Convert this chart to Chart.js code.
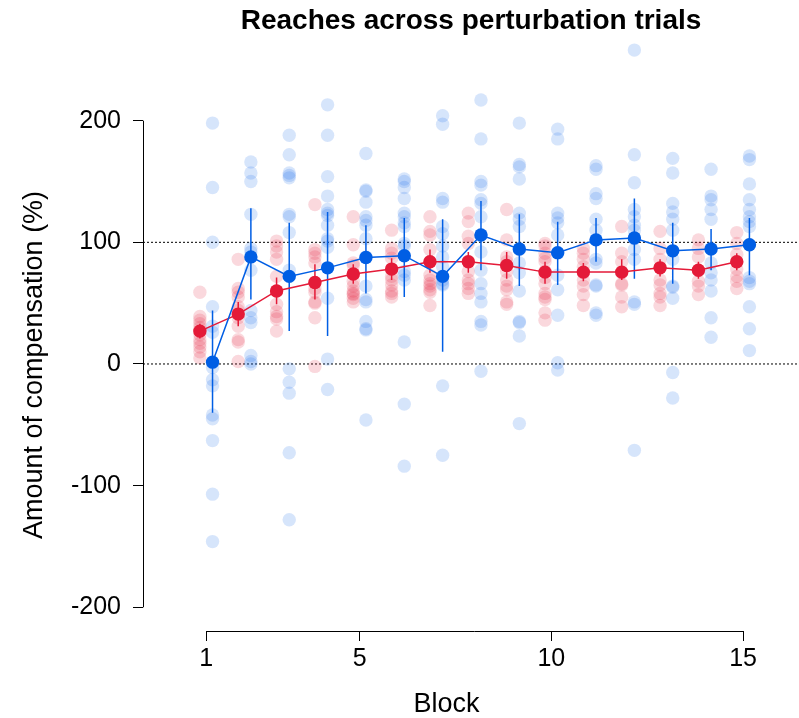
<!DOCTYPE html>
<html>
<head>
<meta charset="utf-8">
<script src="https://cdn.jsdelivr.net/npm/chart.js@4.4.1/dist/chart.umd.min.js"></script>
<style>
  html, body { margin: 0; padding: 0; background: #fff; }
  #wrap { width: 799px; height: 718px; }
</style>
</head>
<body>
<div id="wrap"><canvas id="reachChart"></canvas></div>
<script>
const blocks = [1, 2, 3, 4, 5, 6, 7, 8, 9, 10, 11, 12, 13, 14, 15];

const redMeans  = [27, 41, 60, 67, 74, 78, 84, 84, 81, 75.5, 75.5, 75.5, 79, 77, 84];
const redLower  = [21, 31, 49, 53, 66, 69, 75, 75, 70, 66, 68, 69, 72, 70, 77];
const redUpper  = [33, 51, 71, 82, 82, 87, 94, 92, 92, 84, 83, 86, 86, 84, 91];

const blueMeans = [1.5, 88, 72, 79, 87.5, 89, 72, 106, 94.5, 91.5, 102, 103.5, 93, 94.5, 98];
const blueLower = [-40, 53, 27, 23, 58, 55, 10, 77, 64, 65, 84, 70, 66, 77, 73];
const blueUpper = [44, 128, 116, 125, 114, 120, 119, 134, 123, 117, 120, 136, 116, 111, 120];

// one row per block
const redPoints = [
  [59, 39, 36, 33, 30, 27, 24, 20, 17, 14, 10, 5],
  [86, 62, 59, 55, 47, 44, 38, 31, 20, 18, 2],
  [101, 97, 92, 86, 72, 60, 49, 43, 39, 37, 27],
  [131, 94, 91, 88, 83, 67, 62, 59, 51, 50, 38, -2],
  [121, 98, 83, 81, 74, 68, 64, 60, 58, 57, 54, 51],
  [110, 95, 91, 87, 78, 72, 69, 65, 60, 58, 55],
  [121, 109, 106, 94, 84, 73, 69, 66, 64, 61, 59, 48],
  [124, 117, 105, 99, 84, 76, 69, 66, 62, 58],
  [127, 102, 88, 84, 81, 76, 69, 64, 61, 51, 49],
  [99, 97, 91, 87, 84, 76, 71, 66, 58, 55, 53, 42, 36],
  [95, 91, 86, 80, 75, 69, 64, 57, 48],
  [113, 91, 84, 75, 66, 65, 55, 47],
  [109, 95, 86, 79, 69, 65, 58, 55, 48],
  [102, 95, 88, 77, 68, 64, 57],
  [108, 99, 90, 84, 78, 72, 68, 62]
];
const bluePoints = [
  [198, 145, 100, 47, 31, 26, -3, -13, -18, -42, -45, -63, -107, -146],
  [166, 157, 150, 123, 95, 92, 77, 44, 38, 34, 7, 2, 0],
  [188, 172, 157, 155, 153, 123, 121, 108, 77, -4, -15, -24, -73, -128],
  [213, 188, 154, 138, 127, 124, 122, 114, 103, 101, 96, 54, 4, -21],
  [173, 143, 142, 133, 121, 118, 114, 103, 88, 64, 53, 51, 35, 29, 28, -46],
  [152, 150, 145, 136, 124, 121, 116, 113, 99, 97, 76, 73, 69, 18, -33, -84],
  [204, 197, 136, 133, 113, 107, 97, 88, 80, 69, 66, 65, -18, -75],
  [217, 185, 150, 147, 135, 132, 121, 106, 92, 77, 66, 58, 51, 35, 32, -6],
  [198, 164, 162, 152, 124, 119, 113, 94, 83, 75, 60, 35, 34, 23, -49],
  [193, 185, 124, 120, 116, 106, 91, 73, 61, 40, 1, -5],
  [163, 160, 140, 136, 119, 110, 102, 86, 83, 65, 64, 42, 40],
  [258, 172, 149, 127, 121, 114, 110, 103, 94, 86, 51, 49, -71],
  [169, 157, 132, 125, 119, 110, 93, 86, 64, 63, 54, -7, -28],
  [160, 138, 135, 127, 119, 95, 83, 75, 69, 60, 38, 22],
  [171, 168, 148, 135, 127, 121, 117, 113, 98, 71, 68, 66, 47, 29, 11]
];

const xTicks = [1, 5, 10, 15];
const yTicks = [-200, -100, 0, 100, 200];
const refLines = [0, 100];

const chartTitle = 'Reaches across perturbation trials';
const xTitle = 'Block';
const yTitle = 'Amount of compensation (%)';

// styling
const RED = 'rgb(228, 26, 56)';
const BLUE = 'rgb(0, 94, 228)';
const RED_LIGHT = 'rgba(228, 26, 56, 0.17)';
const BLUE_LIGHT = 'rgba(0, 94, 228, 0.16)';
const OFF = 0.165;            // horizontal dodge of the two groups
const X_MIN = -0.648, X_MAX = 15.18;
const Y_MIN = -219.5, Y_MAX = 266.3;
const FONT = 'Liberation Sans, Arial, Helvetica, sans-serif';

const dots = (pts, dx) => pts.flatMap((col, i) => col.map(v => ({ x: blocks[i] + dx, y: v })));
const bars = (lo, hi, dx) => blocks.flatMap((b, i) => [
  { x: b + dx, y: lo[i] }, { x: b + dx, y: hi[i] }, { x: b + dx, y: null }
]);
const means = (m, dx) => blocks.map((b, i) => ({ x: b + dx, y: m[i] }));

const refSets = refLines.map(v => ({
  type: 'line',
  data: [{ x: X_MIN, y: v }, { x: X_MIN + (X_MAX - X_MIN) * 1.2, y: v }],
  borderColor: '#000', borderWidth: 1, borderDash: [2, 2],
  pointRadius: 0, clip: false, order: 10
}));

// R style axes: line only between the first and last tick; titles placed like base graphics
const axisLines = {
  id: 'axisLines',
  afterDraw(chart) {
    const { ctx, chartArea, scales: { x, y } } = chart;
    ctx.save();
    ctx.strokeStyle = '#000';
    ctx.lineWidth = 1;
    ctx.beginPath();
    const ax = Math.round(chartArea.left) + 0.5;
    const yTop = y.getPixelForValue(yTicks[yTicks.length - 1]);
    const yBot = y.getPixelForValue(yTicks[0]);
    ctx.moveTo(ax, yBot);
    ctx.lineTo(ax, yTop);
    const ay = Math.round(chartArea.bottom) + 0.5;
    ctx.moveTo(x.getPixelForValue(xTicks[0]), ay);
    ctx.lineTo(x.getPixelForValue(xTicks[xTicks.length - 1]), ay);
    ctx.stroke();

    ctx.fillStyle = '#000';
    ctx.textAlign = 'center';
    ctx.textBaseline = 'middle';
    ctx.font = 'bold 28px ' + FONT;
    ctx.fillText(chartTitle, (chartArea.left + chart.width) / 2, 21);

    ctx.font = '27px ' + FONT;
    ctx.translate(35, (yTop + yBot) / 2 + 1);
    ctx.rotate(-Math.PI / 2);
    ctx.fillText(yTitle, 0, 0);
    ctx.restore();
  }
};

new Chart(document.getElementById('reachChart'), {
  data: {
    datasets: [
      ...refSets,
      {
        type: 'scatter', data: dots(redPoints, -OFF),
        backgroundColor: RED_LIGHT, borderWidth: 0, pointRadius: 6.7, clip: false, order: 9
      },
      {
        type: 'scatter', data: dots(bluePoints, OFF),
        backgroundColor: BLUE_LIGHT, borderWidth: 0, pointRadius: 6.7, clip: false, order: 8
      },
      {
        type: 'line', data: bars(redLower, redUpper, -OFF), spanGaps: false,
        borderColor: RED, borderWidth: 1.5, pointRadius: 0, clip: false, order: 5
      },
      {
        type: 'line', data: bars(blueLower, blueUpper, OFF), spanGaps: false,
        borderColor: BLUE, borderWidth: 1.5, pointRadius: 0, clip: false, order: 4
      },
      {
        type: 'line', data: means(redMeans, -OFF),
        borderColor: RED, borderWidth: 1.5, backgroundColor: RED,
        pointRadius: 6.7, pointBorderWidth: 0, tension: 0, clip: false, order: 2
      },
      {
        type: 'line', data: means(blueMeans, OFF),
        borderColor: BLUE, borderWidth: 1.5, backgroundColor: BLUE,
        pointRadius: 6.7, pointBorderWidth: 0, tension: 0, clip: false, order: 1
      }
    ]
  },
  options: {
    responsive: true,
    maintainAspectRatio: false,
    animation: false,
    layout: { padding: { top: 40, right: 49, left: 0, bottom: 0 } },
    plugins: {
      legend: { display: false },
      title: { display: false },
      tooltip: { enabled: false }
    },
    scales: {
      x: {
        type: 'linear', min: X_MIN, max: X_MAX,
        afterBuildTicks: s => { s.ticks = xTicks.map(v => ({ value: v })); },
        afterFit: s => { s.height = 87; },
        grid: { drawOnChartArea: false, tickLength: 10, tickColor: '#000' },
        border: { display: false },
        ticks: { color: '#000', padding: 3, maxRotation: 0, font: { family: FONT, size: 25 } },
        title: { display: true, text: xTitle, color: '#000', padding: { top: 0, bottom: -3 }, font: { family: FONT, size: 27 } }
      },
      y: {
        type: 'linear', min: Y_MIN, max: Y_MAX,
        afterBuildTicks: s => { s.ticks = yTicks.map(v => ({ value: v })); },
        afterFit: s => { s.width = 143; },
        grid: { drawOnChartArea: false, tickLength: 10, tickColor: '#000' },
        border: { display: false },
        ticks: { color: '#000', padding: 12, font: { family: FONT, size: 25 } },
        title: { display: false }
      }
    }
  },
  plugins: [axisLines]
});
</script>
</body>
</html>
